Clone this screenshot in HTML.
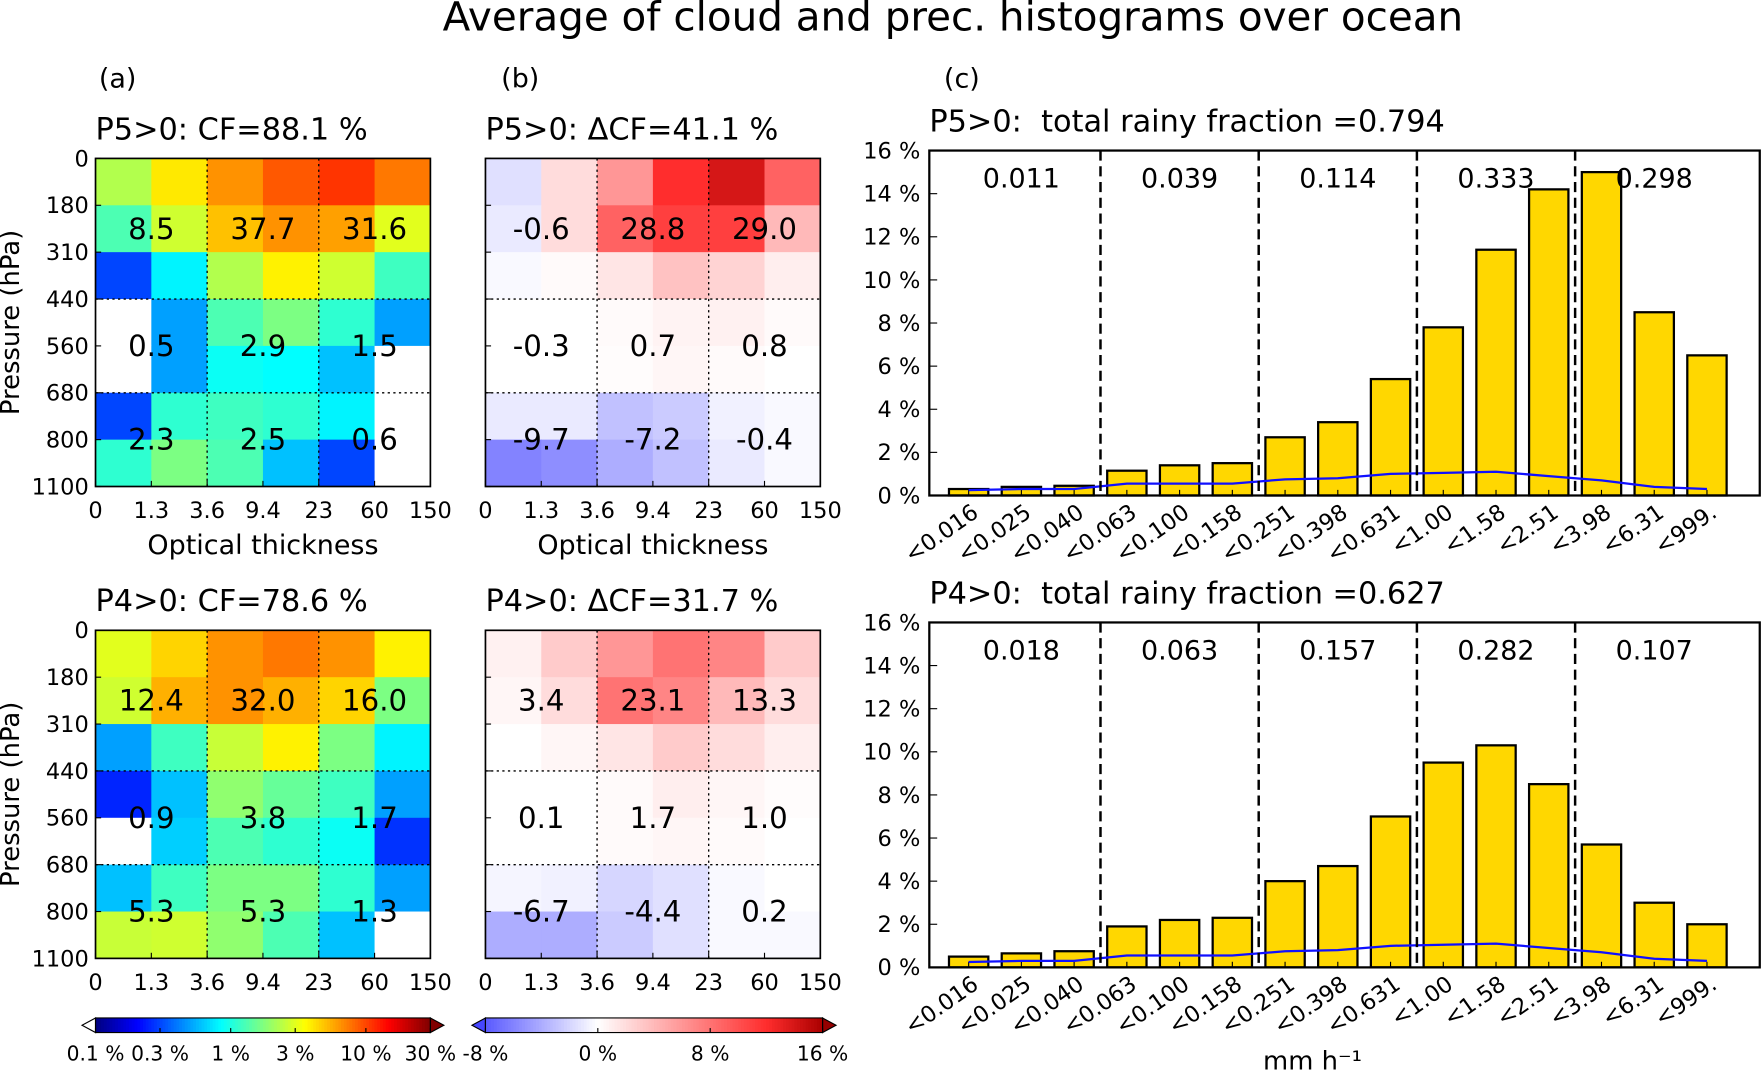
<!DOCTYPE html>
<html><head><meta charset="utf-8"><style>
html,body{margin:0;padding:0;background:#fff}
svg{display:block;font-family:"DejaVu Sans","Liberation Sans",sans-serif}
</style></head><body>
<svg id="fig" width="1762" height="1073" viewBox="0 0 1568 955" preserveAspectRatio="none" xmlns="http://www.w3.org/2000/svg">
<text x="848" y="27" font-size="36" text-anchor="middle">Average of cloud and prec. histograms over ocean</text>
<text x="88" y="78" font-size="24">(a)</text>
<text x="446" y="78" font-size="24">(b)</text>
<text x="840" y="78" font-size="24">(c)</text>
<g id="root"></g>
</svg>
<script>
// ---- heatmap data (rows top->bottom, pressure 0..1100; cols tau 0..150) ----
const tauTicks = ["0","1.3","3.6","9.4","23","60","150"];
const presTicks = ["0","180","310","440","560","680","800","1100"];
const cfTopVals = [
 [2.3,4.0,6.5,9,11,7.5],
 [1.3,2.7,5,6.5,6,3.0],
 [0.3,0.8,2.3,3.8,2.7,1.2],
 [0,0.5,1.3,1.7,1.1,0.5],
 [0,0.5,0.9,0.85,0.6,0],
 [0.3,1.1,1.2,1.1,0.8,0],
 [1.1,1.7,1.3,0.6,0.3,0]];
const cfBotVals = [
 [3.0,4.5,6.5,7.5,6.5,3.8],
 [2.7,5.5,6.5,5.5,4.5,1.7],
 [0.5,1.2,2.6,3.8,1.7,0.8],
 [0.25,0.6,1.9,1.5,1.2,0.5],
 [0,0.65,1.3,1.1,0.9,0.27],
 [0.6,1.2,1.7,1.7,1.1,0.5],
 [2.6,2.7,1.9,1.3,0.6,0]];
const dTopVals = [
 [-1.5,2,6,12,14,9],
 [-1,2,9,11,11,4],
 [-0.3,0.3,1.5,3.5,2.5,1],
 [0,0,0.3,0.7,0.8,0.3],
 [0,0,0.2,0.5,0.3,0],
 [-1,-1,-3,-2.5,-0.7,-0.3],
 [-6,-5.5,-4,-3,-1,-0.3]];
const dBotVals = [
 [0.8,3,6,8,7,3],
 [0.5,2,8,7,4,2],
 [0,0.5,1.5,3,2,1],
 [0,0,0.3,1,0.5,0.2],
 [0,0,0.3,0.5,0.3,0],
 [-0.5,-0.7,-2,-1.5,-0.3,0],
 [-4,-4,-2.5,-1.5,-0.3,-0.3]];
const cfTopText = ["8.5","37.7","31.6","0.5","2.9","1.5","2.3","2.5","0.6"];
const cfBotText = ["12.4","32.0","16.0","0.9","3.8","1.7","5.3","5.3","1.3"];
const dTopText = ["-0.6","28.8","29.0","-0.3","0.7","0.8","-9.7","-7.2","-0.4"];
const dBotText = ["3.4","23.1","13.3","0.1","1.7","1.0","-6.7","-4.4","0.2"];
// ---- bar chart data ----
const rainCats = ["<0.016","<0.025","<0.040","<0.063","<0.100","<0.158","<0.251","<0.398","<0.631","<1.00","<1.58","<2.51","<3.98","<6.31","<999."];
const p5Bars = [0.3,0.4,0.45,1.15,1.4,1.5,2.7,3.4,5.4,7.8,11.4,14.2,15.0,8.5,6.5];
const p5Line = [0.25,0.3,0.3,0.55,0.55,0.55,0.75,0.8,1.0,1.05,1.1,0.9,0.7,0.4,0.3];
const p4Bars = [0.5,0.65,0.75,1.9,2.2,2.3,4.0,4.7,7.0,9.5,10.3,8.5,5.7,3.0,2.0];
const p4Line = [0.25,0.3,0.3,0.55,0.55,0.55,0.75,0.8,1.0,1.05,1.1,0.9,0.7,0.4,0.3];
const p5Groups = ["0.011","0.039","0.114","0.333","0.298"];
const p4Groups = ["0.018","0.063","0.157","0.282","0.107"];
const yTicks = [0,2,4,6,8,10,12,14,16];

const NS="http://www.w3.org/2000/svg";
const root=document.getElementById('root');
function mk(tag,attrs,parent,text){const e=document.createElementNS(NS,tag);for(const k in attrs)e.setAttribute(k,attrs[k]);if(text!==undefined)e.textContent=text;(parent||root).appendChild(e);return e;}

function jet(t){t=Math.max(0,Math.min(1,t));
 const r=Math.min(4*t-1.5,-4*t+4.5),g=Math.min(4*t-0.5,-4*t+3.5),b=Math.min(4*t+0.5,-4*t+2.5);
 const c=x=>Math.round(255*Math.max(0,Math.min(1,x)));return `rgb(${c(r)},${c(g)},${c(b)})`;}
function cfColor(v){if(v<=0.1)return '#ffffff';return jet(Math.log(v/0.1)/Math.log(300));}
function lerp(a,b,t){return a.map((x,i)=>Math.round(x+(b[i]-x)*t));}
function dColor(v){
 if(v<0){const t=Math.min(1,-v/8);const c=lerp([255,255,255],[90,90,255],t);return `rgb(${c})`;}
 const stops=[[0,[255,255,255]],[6,[255,150,150]],[12,[255,45,45]],[16,[170,0,0]]];
 v=Math.min(16,v);for(let i=0;i<stops.length-1;i++){if(v<=stops[i+1][0]){const t=(v-stops[i][0])/(stops[i+1][0]-stops[i][0]);return `rgb(${lerp(stops[i][1],stops[i+1][1],t)})`;}}
 return 'rgb(170,0,0)';}

function heat(x0,y0,vals,texts,colorFn,name,title,showY,xlabel){
 const W=298,H=292,cw=W/6,rh=H/7;
 const g=mk('g',{});
 
 
 vals.forEach((row,r)=>row.forEach((v,c)=>{
  const e=mk('rect',{x:x0+c*cw,y:y0+r*rh,width:cw+0.5,height:rh+0.5,fill:colorFn(v)},g);
  
  
 }));
 [2,4].forEach(c=>mk('line',{x1:x0+c*cw,x2:x0+c*cw,y1:y0,y2:y0+H,stroke:'#000','stroke-dasharray':'2,3','stroke-width':1.2},g));
 [3,5].forEach(r=>mk('line',{x1:x0,x2:x0+W,y1:y0+r*rh,y2:y0+r*rh,stroke:'#000','stroke-dasharray':'2,3','stroke-width':1.2},g));
 mk('rect',{x:x0,y:y0,width:W,height:H,fill:'none',stroke:'#000','stroke-width':1.5},g);
 const ty=[y0+1.5*rh,y0+4*rh,y0+6*rh];
 texts.forEach((t,i)=>{const c=i%3,r=Math.floor(i/3);
  const e=mk('text',{x:x0+(2*c+1)*cw,y:ty[r]+9,'font-size':26,'text-anchor':'middle'},g,t);
  
  });
 tauTicks.forEach((t,i)=>{mk('line',{x1:x0+i*cw,x2:x0+i*cw,y1:y0+H,y2:y0+H-5,stroke:'#000'},g);
  const e=mk('text',{x:x0+i*cw,y:y0+H+28,'font-size':20,'text-anchor':'middle'},g,t);
  
  });
 presTicks.forEach((t,i)=>{mk('line',{x1:x0,x2:x0+5,y1:y0+i*H/7,y2:y0+i*H/7,stroke:'#000'},g);
  if(showY){const e=mk('text',{x:x0-6,y:y0+i*H/7+7,'font-size':20,'text-anchor':'end'},g,t);
  
  }});
 const tt=mk('text',{x:x0,y:y0-17,'font-size':27},g,title);
 
 
 if(showY){const yl=mk('text',{x:0,y:0,'font-size':23,'text-anchor':'middle',transform:`translate(17,${y0+H/2}) rotate(-90)`},g,'Pressure (hPa)');
  
  }
 if(xlabel){const xl=mk('text',{x:x0+W/2,y:y0+H+60,'font-size':24,'text-anchor':'middle'},g,'Optical thickness');
  
  }
}
heat(85,141,cfTopVals,cfTopText,cfColor,'heatmap-cf-p5','P5>0: CF=88.1 %',true,true);
heat(432,141,dTopVals,dTopText,dColor,'heatmap-dcf-p5','P5>0: \u0394CF=41.1 %',false,true);
heat(85,561,cfBotVals,cfBotText,cfColor,'heatmap-cf-p4','P4>0: CF=78.6 %',true,false);
heat(432,561,dBotVals,dBotText,dColor,'heatmap-dcf-p4','P4>0: \u0394CF=31.7 %',false,false);

// colorbars
function colorbar(x0,x1,y,n,fn,labels,posFn,name,minCol,maxCol){
 const g=mk('g',{});
 
 
 const h=13,w=(x1-x0)/n;
 for(let i=0;i<n;i++)mk('rect',{x:x0+i*w,y:y,width:w+0.6,height:h,fill:fn((i+0.5)/n)},g);
 mk('polygon',{points:`${x0},${y} ${x0-12},${y+h/2} ${x0},${y+h}`,fill:minCol,stroke:'#000'},g);
 mk('polygon',{points:`${x1},${y} ${x1+12},${y+h/2} ${x1},${y+h}`,fill:maxCol,stroke:'#000'},g);
 mk('rect',{x:x0,y:y,width:x1-x0,height:h,fill:'none',stroke:'#000'},g);
 labels.forEach((l,i)=>{const px=posFn(i);mk('line',{x1:px,x2:px,y1:y+h,y2:y+h-4,stroke:'#000'},g);
  const e=mk('text',{x:px,y:y+h+25,'font-size':18,'text-anchor':'middle'},g,l);
  
  });
}
const cfBarLabels=["0.1 %","0.3 %","1 %","3 %","10 %","30 %"];
const cfBarVals=[0.1,0.3,1,3,10,30];
colorbar(85,383,906,120,t=>jet(t),cfBarLabels,i=>85+298*Math.log(cfBarVals[i]/0.1)/Math.log(300),'colorbar-cf','#fff','rgb(128,0,0)');
const dBarLabels=["-8 %","0 %","8 %","16 %"];
const dBarVals=[-8,0,8,16];
colorbar(432,732,906,120,t=>dColor(-8+24*t),dBarLabels,i=>432+300*(dBarVals[i]+8)/24,'colorbar-dcf','rgb(70,70,255)','rgb(150,0,0)');

// bar charts
function barChart(y0,bars,line,groups,title,name,showX){
 const x0=827,x1=1566,H=307,yb=y0+H;
 const g=mk('g',{});
 
 
 const ys=v=>yb-v/16*H, step=46.93, xs=i=>862+i*step, bw=35;
 bars.forEach((v,i)=>{const e=mk('rect',{x:xs(i)-bw/2,y:ys(v),width:bw,height:yb-ys(v),fill:'#ffd700',stroke:'#000','stroke-width':2},g);
  
  
  mk('line',{x1:xs(i),x2:xs(i),y1:yb,y2:yb-5,stroke:'#000'},g);});
 const pl=mk('polyline',{points:line.map((v,i)=>`${xs(i)},${ys(v)}`).join(' '),fill:'none',stroke:'#1010ff','stroke-width':2},g);
 
 
 [3,6,9,12].forEach(k=>{const x=xs(k)-step/2;mk('line',{x1:x,x2:x,y1:y0,y2:yb,stroke:'#000','stroke-width':2.2,'stroke-dasharray':'9,5'},g);});
 groups.forEach((t,k)=>{const e=mk('text',{x:xs(3*k+1),y:y0+33,'font-size':24,'text-anchor':'middle'},g,t);
  
  });
 mk('rect',{x:x0,y:y0,width:x1-x0,height:H,fill:'none',stroke:'#000','stroke-width':2},g);
 yTicks.forEach(v=>{mk('line',{x1:x0,x2:x0+7,y1:ys(v),y2:ys(v),stroke:'#000'},g);
  const e=mk('text',{x:x0-8,y:ys(v)+7,'font-size':20,'text-anchor':'end'},g,v+' %');
  
  });
 rainCats.forEach((c,i)=>{const e=mk('text',{x:0,y:0,'font-size':20,'text-anchor':'end',transform:`translate(${xs(i)+10},${yb+18}) rotate(-35)`},g,c);
  
  });
 const t=mk('text',{x:x0,y:y0-17,'font-size':27,'xml:space':'preserve'},g,title);
 
 
 if(showX){const xl=mk('text',{x:1168,y:952,'font-size':23,'text-anchor':'middle'},g,'mm h\u207B\u00B9');
  
  }
}
barChart(134,p5Bars,p5Line,p5Groups,'P5>0:\u00A0 total rainy fraction\u00A0=0.794','bar-chart-p5',false);
barChart(554,p4Bars,p4Line,p4Groups,'P4>0:\u00A0 total rainy fraction\u00A0=0.627','bar-chart-p4',true);
</script>
</body></html>
